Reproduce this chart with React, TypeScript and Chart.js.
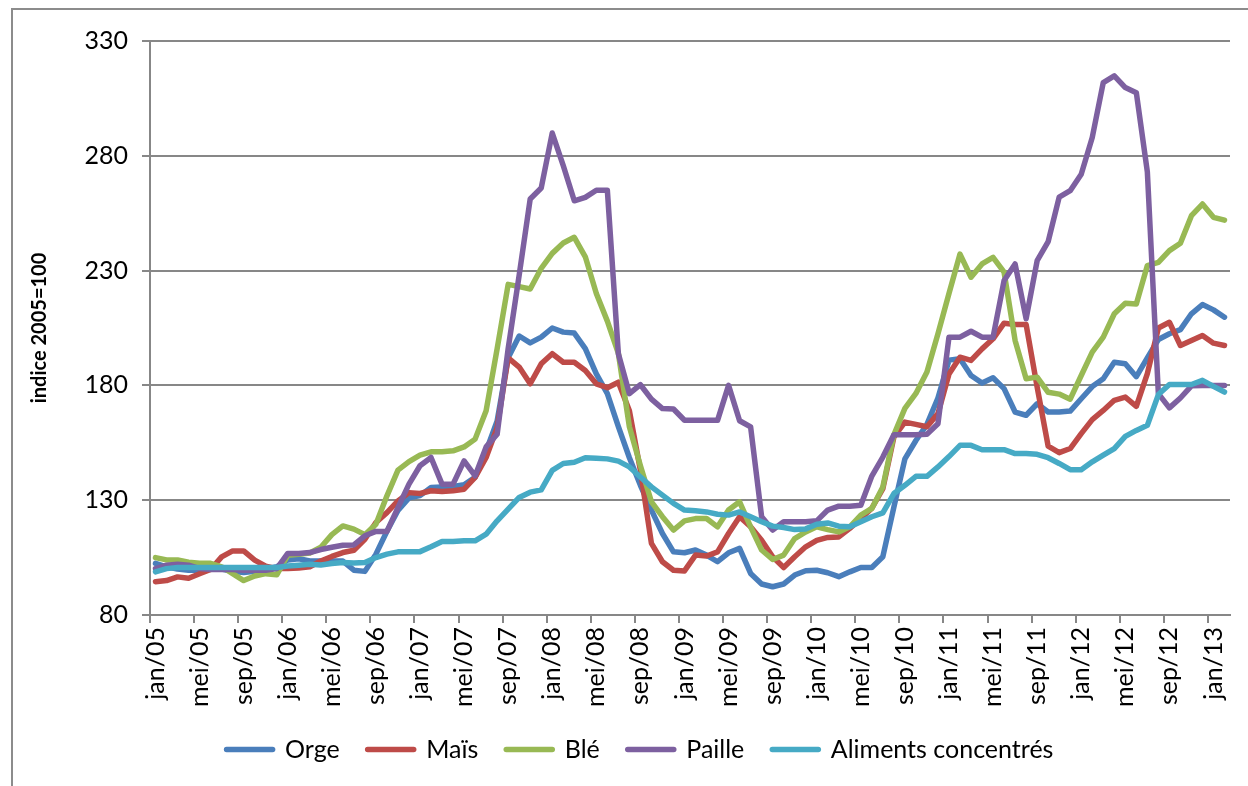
import React, { useEffect, useRef } from 'react';
import { Chart, registerables } from 'chart.js';

Chart.register(...registerables);

const MONTHS = ['jan', 'feb', 'mrt', 'apr', 'mei', 'jun', 'jul', 'aug', 'sep', 'okt', 'nov', 'dec'];
const YEARS = ['05', '06', '07', '08', '09', '10', '11', '12', '13'];
const CATEGORIES: string[] = YEARS.flatMap((y) => MONTHS.map((m) => `${m}/${y}`)).slice(0, 98);

const Y_MIN = 80;
const Y_MAX = 330;
const Y_STEP = 50;

const SERIES_NAMES = ['Orge', 'Maïs', 'Blé', 'Paille', 'Aliments concentrés'];
const SERIES_COLORS = ['#4A7EBB', '#BE4B48', '#98B954', '#7D60A0', '#46AAC5'];

const ORGE = [
  102.5, 101, 100, 99.5, 99.5, 100, 100, 99, 98.5, 99, 100, 101,
  104, 104.5, 103.5, 103.5, 103.5, 103.5, 99.5, 99, 106.5, 116.5, 125.5, 131,
  132, 135.5, 135.8, 136, 136.7, 140, 151.5, 164.5, 192, 201.5, 198.5, 201,
  205, 203.2, 202.8, 196, 185, 176.4, 162, 148.5, 136.5, 125.7, 115.5, 107.5,
  107.1, 108.3, 106.1, 103.2, 107.1, 109, 98.1, 93.5, 92.3, 93.5, 97.4, 99.3,
  99.5, 98.4, 96.7, 98.8, 100.7, 100.7, 105.4, 127, 148, 156, 163, 174.5,
  191, 191.6, 184.3, 181, 183.3, 178.6, 168.4, 167, 172, 168.4, 168.4, 168.8,
  174.2, 179.5, 182.9, 190.1, 189.4, 183.8, 192, 200, 202.5, 204.3, 211.2, 215.2,
  212.9, 209.7,
];

const MAIS = [
  94.5, 95, 96.6, 96, 98, 99.8, 105.3, 107.9, 107.9, 103.9, 101.3, 100.2,
  100.2, 100.5, 101, 103.5, 105.5, 107.2, 108.2, 113, 120.3, 124.6, 129.7, 133.3,
  132.9, 134.1, 133.8, 134.1, 134.8, 139.9, 148.6, 161.6, 192, 188, 180.7, 189.4,
  193.8, 190.1, 190.1, 186.5, 180.7, 179, 181.4, 169, 143, 111.2, 103.2, 99.5,
  99.2, 106.1, 105.7, 107.5, 115.5, 122.8, 118.4, 112.6, 105.4, 100.7, 105.4, 109.7,
  112.5, 113.8, 114, 117.7, 122, 126.5, 135, 157.5, 164, 163, 162, 167.7,
  185, 192.3, 190.9, 195.9, 200.3, 207.1, 206.5, 206.5, 179.3, 153.5, 150.7, 152.5,
  159, 165.1, 169.1, 173.5, 174.9, 170.9, 185.1, 205, 207.5, 197.4, 199.6, 201.7,
  198.4, 197.4,
];

const BLE = [
  105, 104, 104, 103, 102.5, 102.5, 101, 98, 95, 97, 98, 97.5,
  106, 106.5, 107, 109.5, 115, 118.8, 117.4, 115, 119.5, 131.9, 143.1, 146.8,
  149.6, 151.1, 151.1, 151.5, 153.2, 156.6, 169, 196, 224, 223, 222, 231,
  237.5, 242, 244.5, 236, 220, 208, 194, 162, 145, 129.3, 122.8, 117,
  121, 122, 122, 118.4, 125.7, 129.3, 118.4, 108.3, 104.2, 106.1, 113.3, 116.2,
  118.4, 117.2, 116.2, 118.4, 123.5, 126.4, 135.8, 158.5, 170, 176.5, 185.8, 202.5,
  220, 237.2, 227.1, 232.9, 235.8, 229.3, 199.6, 182.9, 183.6, 177, 176.2, 174,
  184.3, 194.5, 201, 211.2, 215.8, 215.5, 232.2, 233.6, 238.7, 241.9, 253.9, 259,
  253.2, 252,
];

const PAILLE = [
  100.2, 101.7, 102.1, 101.7, 100.2, 99.8, 99.8, 99.8, 99.5, 99.5, 99.5, 100.2,
  106.8, 106.8, 107.2, 108.5, 109.5, 110.4, 110.5, 114.5, 116.4, 116.4, 126.8, 137,
  145, 148.6, 137, 137, 147.1, 140.6, 153.2, 158.7, 196, 228, 261.2, 266,
  289.9, 275.7, 260.4, 261.9, 265, 265, 193.8, 176.4, 180.3, 174, 169.9, 169.7,
  164.8, 164.8, 164.8, 164.8, 180, 164.6, 161.9, 122.8, 117, 120.6, 120.6, 120.6,
  121, 125.7, 127.4, 127.4, 127.8, 140.5, 148.8, 158.5, 158.5, 158.5, 158.7, 163.3,
  201, 201, 203.6, 201, 201, 225.7, 232.9, 209, 234.3, 242.6, 262, 264.8,
  272, 288, 311.9, 314.8, 309.7, 307.5, 273, 176.4, 170.2, 174.5, 179.8, 180,
  180, 180,
];

const ALIMENTS = [
  98.8, 100.2, 100.7, 100.7, 100.7, 100.7, 100.7, 100.7, 100.7, 100.7, 100.7, 100.7,
  101.3, 101.7, 102.1, 101.8, 102.4, 102.9, 102.7, 102.9, 105, 106.5, 107.5, 107.6,
  107.6, 109.7, 112, 112, 112.3, 112.3, 115.2, 121, 126.1, 131.2, 133.5, 134.5,
  143, 146, 146.5, 148.5, 148.3, 148, 147, 144.5, 140.1, 135.8, 132.2, 128.6,
  125.7, 125.4, 124.9, 123.9, 123.5, 124.9, 122.8, 120.6, 118.7, 118.1, 117.2, 117.5,
  119.5, 120.1, 118.7, 118.4, 120.6, 122.8, 124.5, 132.9, 136.5, 140.4, 140.4, 144.5,
  149, 153.9, 153.9, 152, 152, 152, 150.3, 150.3, 150, 148.5, 146, 143.3,
  143.3, 146.7, 149.6, 152.5, 157.8, 160.4, 162.6, 176, 180.4, 180.4, 180.4, 182.2,
  179.6, 177.1,
];

const SERIES_DATA = [ORGE, MAIS, BLE, PAILLE, ALIMENTS];
const Y_TITLE = 'indice 2005=100';

const GRID = '#878787';
const FONT = 'Lato';
const FS = 25;

export default function App() {
  const ref = useRef<HTMLCanvasElement>(null);

  useEffect(() => {
    if (!ref.current) return;
    Chart.defaults.font.family = FONT;
    const chart = new Chart(ref.current, {
      type: 'line',
      data: {
        labels: CATEGORIES,
        datasets: SERIES_NAMES.map((name, i) => ({
          label: name,
          data: SERIES_DATA[i],
          borderColor: SERIES_COLORS[i],
          backgroundColor: SERIES_COLORS[i],
          borderWidth: 5.5,
          pointRadius: 0,
          pointHoverRadius: 0,
          tension: 0,
          borderJoinStyle: 'round',
          borderCapStyle: 'round',
          fill: false,
          order: SERIES_NAMES.length - i,
        })),
      },
      options: {
        responsive: false,
        animation: false,
        devicePixelRatio: 1,
        events: [],
        layout: { padding: { left: 37, right: 37, top: 31, bottom: 14 } },
        plugins: {
          tooltip: { enabled: false },
          legend: {
            position: 'bottom',
            labels: {
              usePointStyle: true,
              pointStyle: 'line',
              pointStyleWidth: 46,
              padding: 28,
              color: '#000',
              font: { size: FS, family: FONT },
              generateLabels: () =>
                SERIES_NAMES.map((name, i) => ({
                  text: name,
                  fillStyle: SERIES_COLORS[i],
                  strokeStyle: SERIES_COLORS[i],
                  lineWidth: 5.5,
                  lineCap: 'round',
                  pointStyle: 'line',
                  hidden: false,
                  datasetIndex: i,
                  fontColor: '#000',
                })),
            },
          },
        },
        scales: {
          x: {
            type: 'category',
            offset: true,
            grid: {
              display: true,
              drawOnChartArea: false,
              drawTicks: true,
              tickLength: 8,
              offset: true,
              lineWidth: 2,
              color: (c: any) => (c.index % 4 === 0 ? GRID : 'rgba(0,0,0,0)'),
            },
            border: { display: true, color: GRID, width: 2 },
            ticks: {
              autoSkip: false,
              maxRotation: 90,
              minRotation: 90,
              padding: 4,
              color: '#000',
              font: { size: FS, family: FONT },
              callback: (_v: any, i: number) => (i % 4 === 0 ? CATEGORIES[i] : ''),
            },
            afterFit: (s: any) => {
              s.height = 94;
            },
          },
          y: {
            min: Y_MIN,
            max: Y_MAX,
            ticks: {
              stepSize: Y_STEP,
              padding: 14,
              color: '#000',
              font: { size: FS, family: FONT },
            },
            grid: { color: GRID, lineWidth: 2, drawTicks: true, tickLength: 8 },
            border: { display: true, color: GRID, width: 2 },
            title: {
              display: true,
              text: Y_TITLE,
              color: '#000',
              font: { size: 20, weight: 'bold', family: FONT },
              padding: { top: -22, bottom: 0 },
            },
            afterFit: (s: any) => {
              s.width = 100;
            },
          },
        },
      },
    } as any);
    return () => chart.destroy();
  }, []);

  return (
    <div
      style={{
        position: 'fixed',
        left: 11,
        top: 8,
        width: 1260,
        height: 790,
        borderLeft: '2px solid #8c8c8c',
        borderTop: '2px solid #8c8c8c',
        background: '#fff',
      }}
    >
      <canvas ref={ref} width={1254} height={776} style={{ display: 'block', width: 1254, height: 776 }} />
    </div>
  );
}
